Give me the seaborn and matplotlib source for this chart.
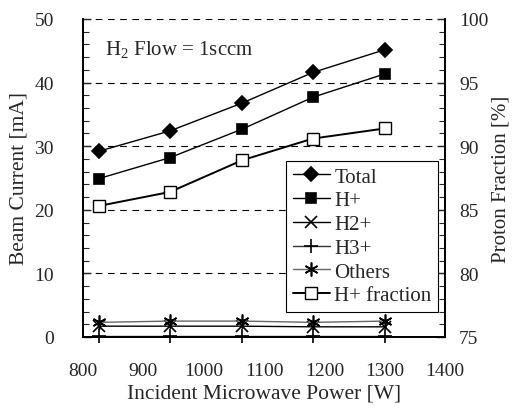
import matplotlib
matplotlib.use("Agg")
import matplotlib.pyplot as plt
from matplotlib.ticker import MultipleLocator
import seaborn as sns

power = [826, 944, 1064, 1181, 1301]
total = [29.2, 32.4, 36.8, 41.6, 45.2]
h_plus = [24.9, 28.2, 32.7, 37.7, 41.4]
h2_plus = [1.7, 1.7, 1.7, 1.6, 1.6]
h3_plus = [0.2, 0.2, 0.2, 0.2, 0.2]
others = [2.3, 2.5, 2.5, 2.3, 2.5]
h_frac = [85.3, 86.4, 88.9, 90.6, 91.4]

sns.set_style("white")
plt.rcParams['font.family'] = ['Liberation Serif', 'DejaVu Serif']
plt.rcParams['mathtext.fontset'] = 'custom'
plt.rcParams['mathtext.rm'] = 'Liberation Serif'
TFS = 14
LFS = 15.5

fig = plt.figure(figsize=(5.14, 4.14), dpi=100)
ax = fig.add_axes([0.1615, 0.1836, 0.866 - 0.1615, 0.9517 - 0.1836])
ax2 = ax.twinx()

for yv in [10, 20, 30, 40, 50]:
    ax.axhline(yv, color='black', lw=0.8, ls=(0, (6, 5)), zorder=0.5)

series = [
    (total, 'Total', 'D', 'black', 'black', 7),
    (h_plus, 'H+', 's', 'black', 'black', 7.5),
    (h2_plus, 'H2+', 'x', 'black', 'black', 8),
    (h3_plus, 'H3+', '+', '#333333', 'black', 10),
    (others, 'Others', (6, 2, 0), '#666666', 'black', 10),
]
for vals, lab, mk, lc, mc, ms in series:
    sns.lineplot(x=power, y=vals, ax=ax, color=lc, marker=mk, markersize=ms,
                 markerfacecolor=mc, markeredgecolor=mc, markeredgewidth=1.2,
                 lw=1.0, label=lab, legend=False, clip_on=False)

sns.lineplot(x=power, y=h_frac, ax=ax2, color='black', marker='s', markersize=8,
             markerfacecolor='white', markeredgecolor='black', markeredgewidth=1.0,
             lw=1.4, label='H+ fraction', legend=False)

ax.set_xlim(800, 1400)
ax.set_ylim(0, 50)
ax2.set_ylim(75, 100)
ax.xaxis.set_major_locator(MultipleLocator(100))
ax.xaxis.set_minor_locator(MultipleLocator(20))
ax.yaxis.set_major_locator(MultipleLocator(10))
ax.yaxis.set_minor_locator(MultipleLocator(2))
ax2.yaxis.set_major_locator(MultipleLocator(5))
ax2.yaxis.set_minor_locator(MultipleLocator(1))

ax.tick_params(axis='x', which='major', direction='in', length=6, width=1, labelsize=TFS, pad=18)
ax.tick_params(axis='x', which='minor', direction='in', length=4, width=0.8)
ax.tick_params(axis='y', which='major', direction='in', length=6, width=1, labelsize=TFS, pad=21)
ax.tick_params(axis='y', which='minor', direction='in', length=4, width=0.8)
ax2.tick_params(axis='y', which='major', direction='in', length=6, width=1, labelsize=TFS, pad=10)
ax2.tick_params(axis='y', which='minor', direction='in', length=4, width=0.8)

for a in (ax, ax2):
    a.spines['top'].set_visible(False)
    for s in ['left', 'right', 'bottom']:
        a.spines[s].set_linewidth(1.3)
        a.spines[s].set_color('black')

ax.set_xlabel('Incident Microwave Power [W]', fontsize=LFS, labelpad=3)
ax.set_ylabel('Beam Current [mA]', fontsize=LFS, labelpad=4)
ax2.set_ylabel('Proton Fraction [%]', fontsize=15, labelpad=2, rotation=90)

ax.text(0.06, 0.905, r'H$_\mathrm{2}$ Flow = 1sccm', transform=ax.transAxes,
        fontsize=15, va='center', ha='left')

h1, l1 = ax.get_legend_handles_labels()
h2, l2 = ax2.get_legend_handles_labels()
leg = ax2.legend(h1 + h2, l1 + l2, loc='lower right', bbox_to_anchor=(0.98, 0.08),
                 fontsize=15, frameon=True, fancybox=False, edgecolor='black',
                 handlelength=1.8, handletextpad=0.2, labelspacing=0.2,
                 borderpad=0.3, borderaxespad=0)
leg.get_frame().set_linewidth(0.8)
leg.get_frame().set_alpha(1)

fig.savefig('out.png', dpi=100)
